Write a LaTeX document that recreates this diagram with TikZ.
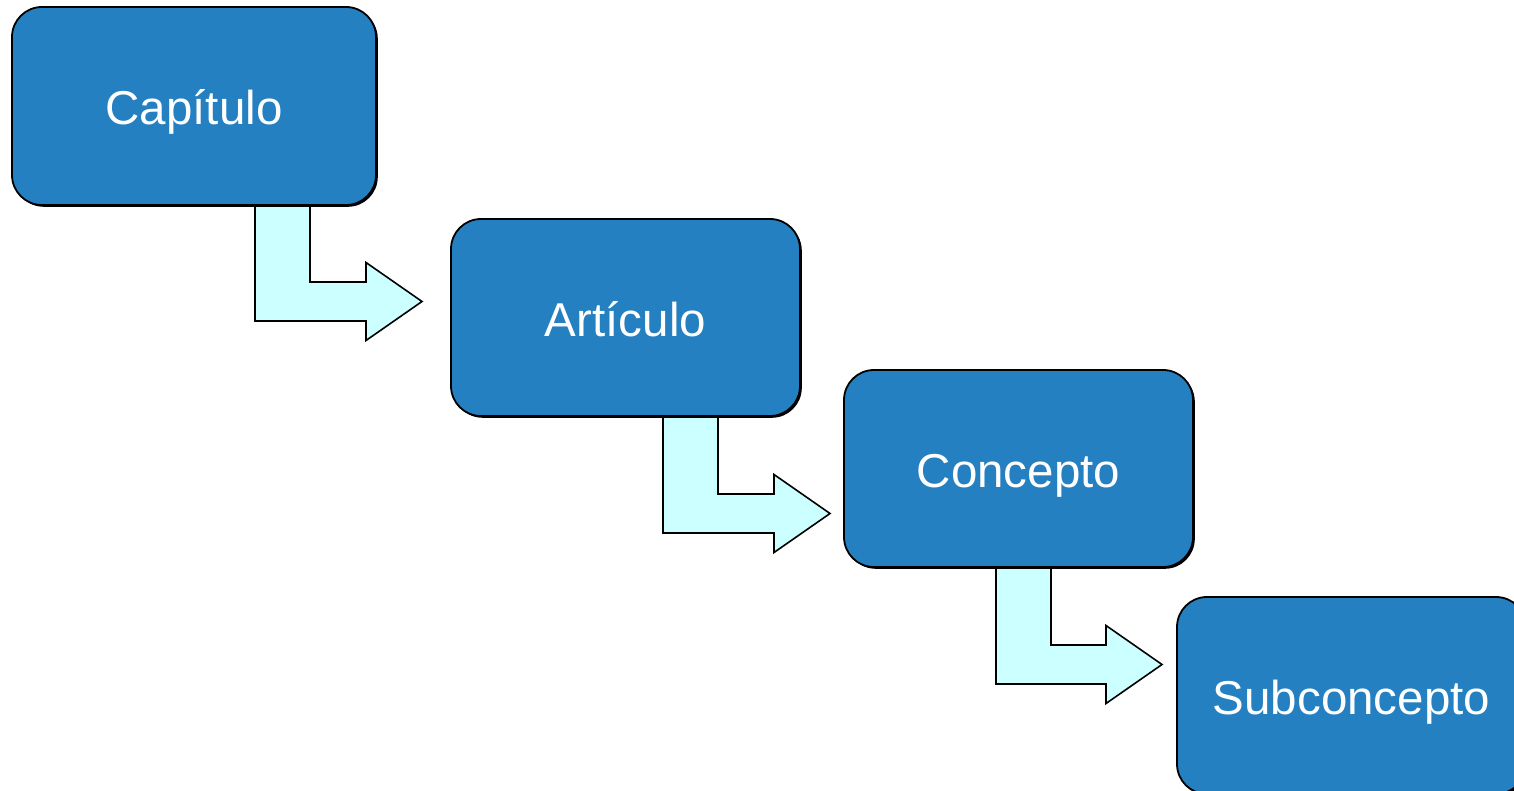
\documentclass[tikz,border=0pt]{standalone}
\usepackage{fontspec}
\setmainfont{Liberation Sans}
\usetikzlibrary{calc,shadows}
\definecolor{boxblue}{RGB}{37,128,193}
\definecolor{arrowcyan}{RGB}{204,255,255}
\pgfdeclarelayer{background}
\pgfsetlayers{background,main}
\tikzset{
  stagebox/.style={draw=black, line width=1.8pt, fill=boxblue, rounded corners=30pt,
    text=white, font=\fontsize{47.5}{55}\selectfont,
    text height=38pt, text depth=0pt,
    drop shadow={shadow xshift=1.8pt, shadow yshift=-1.8pt, fill=black, opacity=1},
    inner sep=0pt},
  bentarrow/.style={draw=black, line width=1.6pt, fill=arrowcyan, line join=miter}
}
\begin{document}
\begin{tikzpicture}[x=1pt,y=-1pt]
\useasboundingbox (0,0) rectangle (1514,791);
\node[stagebox, minimum width=364pt, minimum height=198pt] (cap) at (194,106) {Capítulo};
\node[stagebox, minimum width=349pt, minimum height=197pt] (art) at (625.5,317.5) {Artículo};
\node[stagebox, minimum width=349pt, minimum height=197pt] (con) at (1018.5,468.5) {Concepto};
\node[stagebox, minimum width=349pt, minimum height=197pt] (sub) at (1351.5,695.5) {Subconcepto};
\coordinate (s1) at (255,0 |- cap.south);
\coordinate (t1) at (422,301.5);
\coordinate (s2) at (663,0 |- art.south);
\coordinate (t2) at (830,513.5);
\coordinate (s3) at (996,0 |- con.south);
\coordinate (t3) at (1162,664.5);
\begin{pgfonlayer}{background}
\foreach \s/\t in {s1/t1,s2/t2,s3/t3}{
  \path[bentarrow] let \p1=(\s), \p2=(\t) in
    (\x1,\y1) -- (\x1+55pt,\y1) -- (\x1+55pt,\y2+19.5pt)
    -- (\x2-56pt,\y2+19.5pt) -- (\x2-56pt,\y2+39pt) -- (\x2,\y2)
    -- (\x2-56pt,\y2-39pt) -- (\x2-56pt,\y2-19.5pt) -- (\x1,\y2-19.5pt) -- cycle;
}
\end{pgfonlayer}
\end{tikzpicture}
\end{document}
